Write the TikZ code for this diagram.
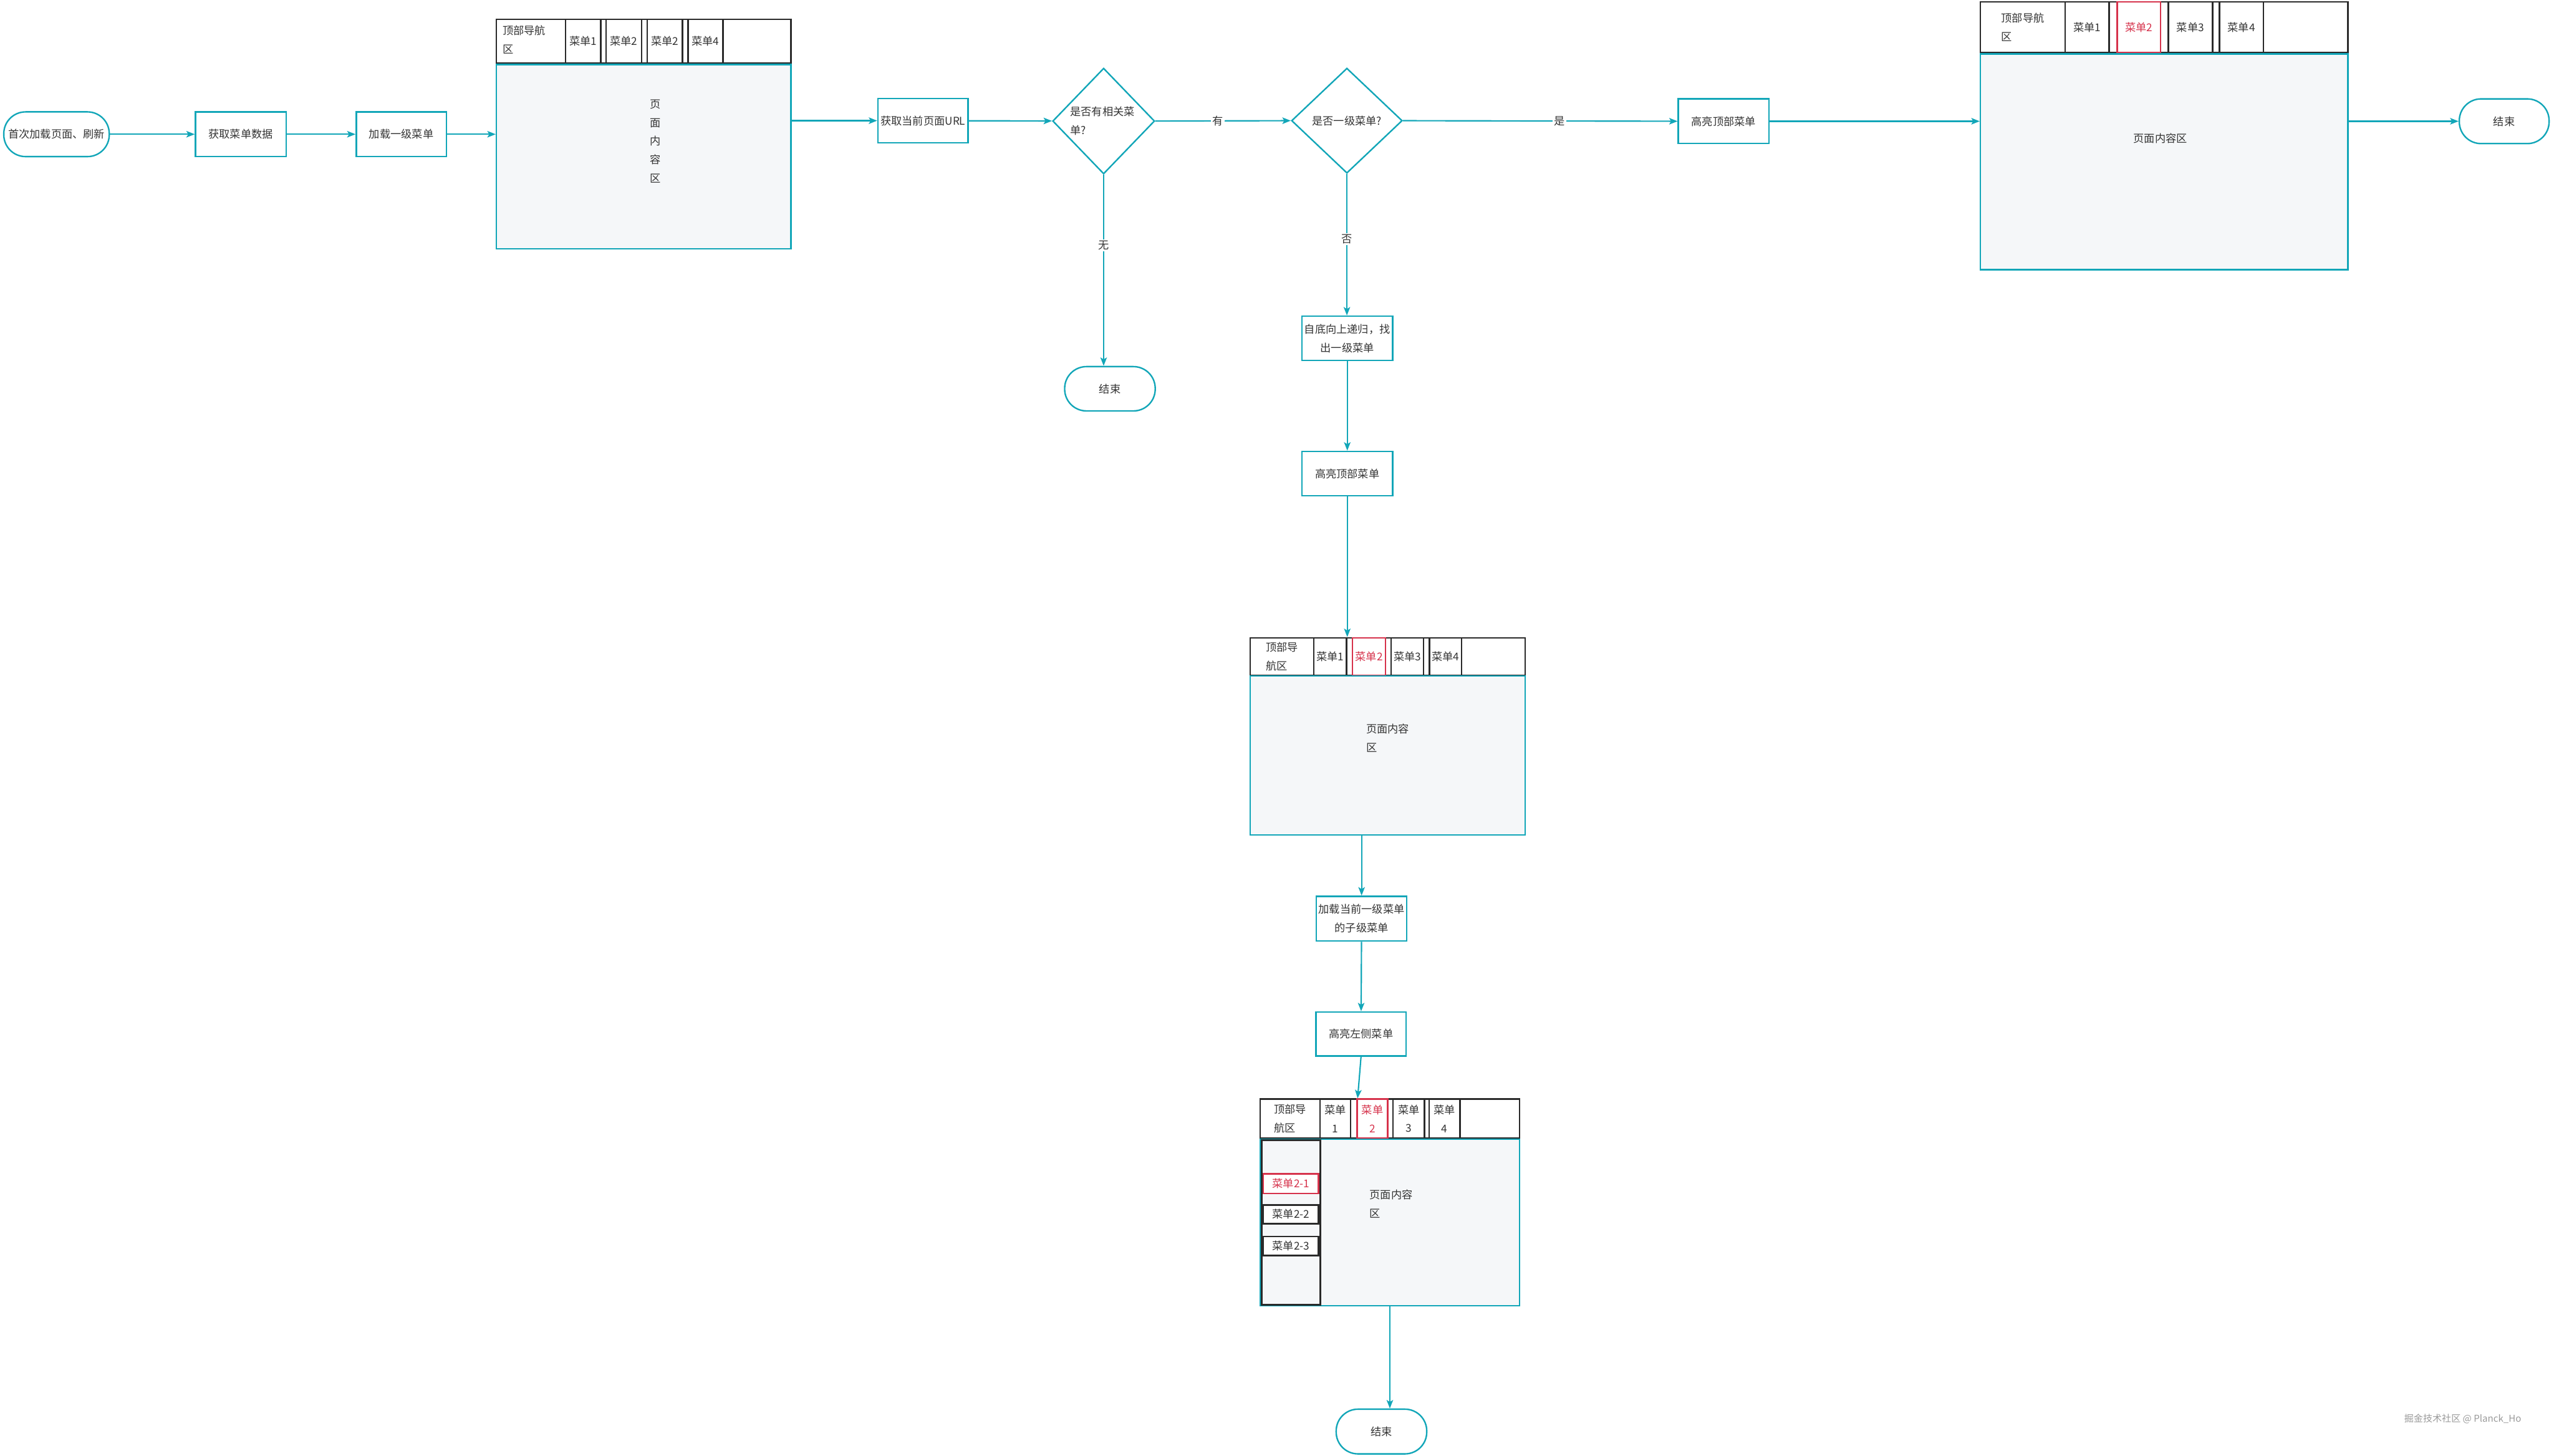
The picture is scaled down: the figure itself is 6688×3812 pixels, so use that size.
\documentclass[tikz,border=0pt]{standalone}
\usepackage{fontspec}
\setmainfont{Noto Sans CJK SC}
\usetikzlibrary{arrows.meta,fit,shapes.geometric,calc}
\definecolor{teal1}{HTML}{12A6B8}
\definecolor{red1}{HTML}{D6324B}
\definecolor{pagefill}{HTML}{F5F7F9}
\definecolor{navline}{HTML}{2A2A2A}
\definecolor{txt}{HTML}{333333}
\definecolor{wmgray}{HTML}{9A9A9A}
\begin{document}
\begin{tikzpicture}[x=0.01cm, y=-0.01cm,
  every node/.style={font=\fontsize{8pt}{13.9pt}\selectfont, text=txt},
  sz/.style 2 args={minimum width=#1cm, minimum height=#2cm},
  box/.style={draw=teal1, line width=1.1pt, fill=white, inner sep=0pt, align=center},
  term/.style={box, rounded corners=0.57cm},
  dia/.style={diamond, draw=teal1, line width=1.1pt, fill=white, inner sep=0pt},
  cont/.style={draw=teal1, line width=1.1pt, fill=pagefill, inner sep=0pt},
  navbar/.style={draw=navline, line width=1.1pt, fill=white, inner sep=0pt},
  cell/.style={draw=navline, line width=1.1pt, inner sep=0pt, align=center},
  labcell/.style={draw=navline, line width=1.1pt, inner sep=0pt, align=left},
  hcell/.style={draw=red1, line width=1.1pt, inner sep=0pt, align=center, text=red1},
  side/.style={draw=navline, line width=1.3pt, fill=pagefill, inner sep=0pt},
  subitem/.style={draw=navline, line width=1.3pt, fill=white, inner sep=0pt},
  hsubitem/.style={draw=red1, line width=1.3pt, fill=white, inner sep=0pt, text=red1},
  arr/.style={draw=teal1, line width=1pt, -{Stealth[length=0.22cm,width=0.17cm,inset=0.05cm]}},
  lbl/.style={fill=white, inner sep=1pt},
]
\useasboundingbox (0,0) rectangle (6688,3812);

% ---- first row ----
\node[term, sz={2.76}{1.17}] (start) at (148,351.5) {首次加载页面、刷新};
\node[box, sz={2.37}{1.17}] (gd) at (630.5,351.5) {获取菜单数据};
\node[box, sz={2.36}{1.17}] (ld) at (1051,351.5) {加载一级菜单};

% page 1
\node[navbar, fit={(1300,51) (2071,166)}] (p1nav) {};
\node[cell, sz={0.92}{1.15}] (p1m1) at (1527,108.5) {菜单1};
\node[cell, sz={0.93}{1.15}] (p1m2) at (1633.5,108.5) {菜单2};
\node[cell, sz={0.92}{1.15}] (p1m3) at (1741,108.5) {菜单2};
\node[cell, sz={0.91}{1.15}] (p1m4) at (1847.5,108.5) {菜单4};
\node[anchor=west, align=left] (p1lab) at (1304,104) {顶部导航\\区};
\node[cont, fit={(1300,169) (2071,652)}] (p1c) {};
\node[align=center] (p1t) at (1717,370) {页\\面\\内\\容\\区};

\node[box, sz={2.36}{1.16}] (url) at (2417,316) {获取当前页面URL};
\node[dia, minimum width=2.67cm, minimum height=2.77cm] (d1) at (2890,317) {};
\node[align=left] (d1t) at (2887,317) {是否有相关菜\\单?};
\node[dia, minimum width=2.90cm, minimum height=2.75cm] (d2) at (3527,316) {};
\node (d2t) at (3527,316) {是否一级菜单?};
\node[term, sz={2.37}{1.16}] (e1) at (2906.5,1018) {结束};

\node[box, sz={2.37}{1.17}] (h1) at (4513.5,317.5) {高亮顶部菜单};

% page 4
\node[navbar, fit={(5186,5) (6148,138)}] (p4nav) {};
\node[labcell, sz={2.22}{1.33}] (p4lab) at (5297,71.5) {顶部导航\\区};
\node[cell, sz={1.15}{1.33}] (p4m1) at (5465.5,71.5) {菜单1};
\node[cell, sz={1.16}{1.33}] (p4m3) at (5736,71.5) {菜单3};
\node[cell, sz={1.15}{1.33}] (p4m4) at (5869.5,71.5) {菜单4};
\node[hcell, sz={1.14}{1.33}] (p4m2) at (5601,71.5) {菜单2};
\node[cont, fit={(5186,141) (6148,706)}] (p4c) {};
\node (p4t) at (5657,363) {页面内容区};
\node[term, sz={2.35}{1.17}] (e2) at (6557.5,317.5) {结束};

% ---- middle column ----
\node[box, sz={2.38}{1.16}] (rec) at (3528,886) {自底向上递归，找\\出一级菜单};
\node[box, sz={2.38}{1.16}] (h2) at (3528,1240) {高亮顶部菜单};

% page 2
\node[navbar, fit={(3274,1670) (3994,1768)}] (p2nav) {};
\node[labcell, sz={1.66}{0.98}] (p2lab) at (3357,1719) {顶部导\\航区};
\node[cell, sz={0.86}{0.98}] (p2m1) at (3483,1719) {菜单1};
\node[cell, sz={0.85}{0.98}] (p2m3) at (3685.5,1719) {菜单3};
\node[cell, sz={0.84}{0.98}] (p2m4) at (3785,1719) {菜单4};
\node[hcell, sz={0.86}{0.98}] (p2m2) at (3585,1719) {菜单2};
\node[cont, fit={(3274,1770) (3994,2186)}] (p2c) {};
\node[align=left] (p2t) at (3634,1932) {页面内容\\区};

\node[box, sz={2.37}{1.17}] (ls) at (3565.5,2405.5) {加载当前一级菜单\\的子级菜单};
\node[box, sz={2.36}{1.15}] (hl) at (3564,2707.5) {高亮左侧菜单};

% page 3
\node[navbar, fit={(3300,2878) (3979,2980)}] (p3nav) {};
\node[labcell, sz={1.57}{1.02}] (p3lab) at (3378.5,2929) {顶部导\\航区};
\node[cell, sz={0.80}{1.02}] (p3m1) at (3497,2929) {菜单\\1};
\node[cell, sz={0.82}{1.02}] (p3m3) at (3689,2929) {菜单\\3};
\node[cell, sz={0.81}{1.02}] (p3m4) at (3782.5,2929) {菜单\\4};
\node[hcell, sz={0.80}{1.02}] (p3m2) at (3594,2929) {菜单\\2};
\node[cont, fit={(3300,2983) (3979,3419)}] (p3c) {};
\node[side, fit={(3304,2986) (3457,3416)}] (p3side) {};
\node[hsubitem, sz={1.45}{0.51}] (p3s1) at (3380.5,3099.5) {菜单2-1};
\node[subitem, sz={1.45}{0.49}] (p3s2) at (3380.5,3179.5) {菜单2-2};
\node[subitem, sz={1.45}{0.50}] (p3s3) at (3380.5,3263) {菜单2-3};
\node[align=left] (p3t) at (3643,3153) {页面内容\\区};

\node[term, sz={2.37}{1.17}] (e3) at (3617.5,3748.5) {结束};

% ---- connectors ----
\draw[arr] (start) -- (gd);
\draw[arr] (gd) -- (ld);
\draw[arr] (ld.east) -- (ld.east -| p1c.west);
\draw[arr] (url.west -| p1c.east) -- (url.west);
\draw[arr] (url) -- (d1);
\draw[arr] (d1.east) -- node[lbl, pos=0.46] {有} (d2.west);
\draw[arr] (d1.south) -- node[lbl, pos=0.37] {无} (d1.south |- e1.north);
\draw[arr] (d2.east) -- node[lbl, pos=0.57] {是} (h1.west);
\draw[arr] (d2.south) -- node[lbl, pos=0.46] {否} (d2.south |- rec.north);
\draw[arr] (h1.east) -- (h1.east -| p4c.west);
\draw[arr] (e2.west -| p4c.east) -- (e2.west);
\draw[arr] (rec) -- (h2);
\draw[arr] (h2.south) -- (h2.south |- p2nav.north);
\draw[arr] (ls.north |- p2c.south) -- (ls.north);
\draw[arr] (ls) -- (hl);
\draw[arr] (hl.south) -- ($(p3nav.north west)+(257,0)$);
\draw[arr] (p3c.south) -- (p3c.south |- e3.north);

% watermark
\node[text=wmgray, font=\fontsize{7pt}{8pt}\selectfont] (wm) at (6449,3715) {掘金技术社区 @ Planck\_Ho};
\end{tikzpicture}
\end{document}
